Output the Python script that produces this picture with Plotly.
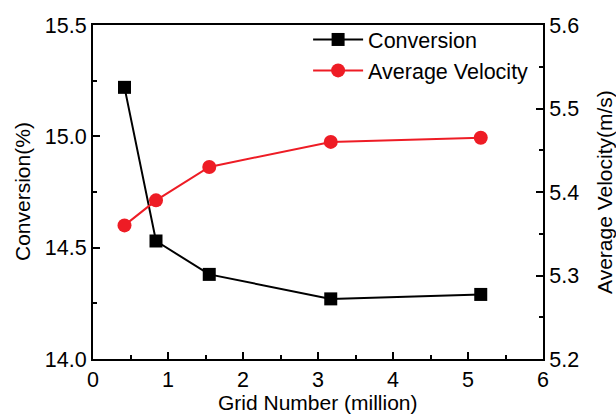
import plotly.graph_objects as go

# Grid independence study
grid_million = [0.42, 0.84, 1.55, 3.17, 5.17]
conversion = [15.22, 14.53, 14.38, 14.27, 14.29]
avg_velocity = [5.36, 5.39, 5.43, 5.46, 5.465]

x_title = "Grid Number (million)"
y_title = "Conversion(%)"
y2_title = "Average Velocity(m/s)"

FONT = "Liberation Sans, Arial, sans-serif"
FS = 21.5

fig = go.Figure()
fig.add_trace(go.Scatter(
    x=grid_million, y=conversion, name="Conversion",
    mode="lines+markers",
    line=dict(color="black", width=2),
    marker=dict(symbol="square", size=13, color="black"),
))
fig.add_trace(go.Scatter(
    x=grid_million, y=avg_velocity, name="Average Velocity",
    mode="lines+markers", yaxis="y2",
    line=dict(color="#ee1c25", width=2),
    marker=dict(symbol="circle", size=14, color="#ee1c25"),
))

axis_common = dict(
    showline=True, linecolor="black", linewidth=2,
    ticks="inside", ticklen=7, tickwidth=1.5, tickcolor="black",
    showgrid=False, zeroline=False, automargin=False,
    tickfont=dict(family=FONT, size=FS, color="black"),
)

fig.update_layout(
    width=616, height=414,
    margin=dict(l=93, r=73, t=25, b=55),
    paper_bgcolor="white", plot_bgcolor="white",
    font=dict(family=FONT, color="black"),
    xaxis=dict(
        **axis_common, range=[0, 6], dtick=1, mirror=True,
        minor=dict(ticks="inside", ticklen=4, dtick=0.5, tickcolor="black"),
    ),
    yaxis=dict(
        **axis_common, range=[14.0, 15.5], dtick=0.5, tickformat=".1f",
        minor=dict(ticks="inside", ticklen=4, dtick=0.25, tickcolor="black"),
    ),
    yaxis2=dict(
        **axis_common, range=[5.2, 5.6], dtick=0.1, tickformat=".1f",
        overlaying="y", side="right",
        minor=dict(ticks="inside", ticklen=4, dtick=0.05, tickcolor="black"),
    ),
    legend=dict(
        x=0.478, y=1.018, xanchor="left", yanchor="top",
        bgcolor="rgba(0,0,0,0)", borderwidth=0,
        font=dict(family=FONT, size=FS, color="black"),
        tracegroupgap=0, itemwidth=50,
    ),
)

# Axis titles placed as annotations for exact positioning in the margins
title_font = dict(family=FONT, size=21, color="black")
fig.add_annotation(text=x_title, xref="paper", yref="paper", x=0.5, y=0,
                   yanchor="middle", yshift=-43, showarrow=False, font=title_font,
                   borderpad=0)
fig.add_annotation(text=y_title, xref="paper", yref="paper", x=0, y=0.5,
                   xanchor="center", xshift=-71, textangle=-90,
                   showarrow=False, font=title_font, borderpad=0)
fig.add_annotation(text=y2_title, xref="paper", yref="paper", x=1, y=0.5,
                   xanchor="center", xshift=61, textangle=-90,
                   showarrow=False, font=title_font, borderpad=0)

fig.write_html("out.html")
